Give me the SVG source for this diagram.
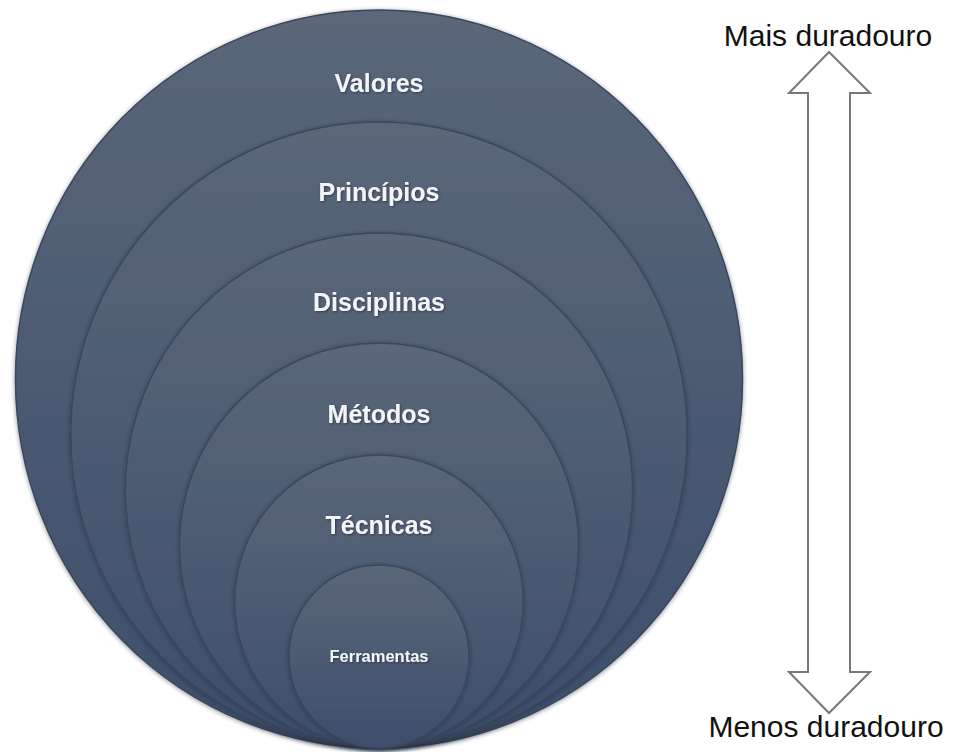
<svg xmlns="http://www.w3.org/2000/svg" width="954" height="752" viewBox="0 0 954 752">
<defs>
<linearGradient id="g" x1="0" y1="0" x2="0" y2="1">
<stop offset="0" stop-color="#5b6779"/>
<stop offset="1" stop-color="#3d4e6b"/>
</linearGradient>
<filter id="sh" x="-10%" y="-10%" width="120%" height="120%">
<feGaussianBlur in="SourceAlpha" stdDeviation="2"/>
<feOffset dx="0" dy="1" result="b"/>
<feFlood flood-color="#1a2436" flood-opacity="0.5"/>
<feComposite in2="b" operator="in"/>
<feMerge><feMergeNode/><feMergeNode in="SourceGraphic"/></feMerge>
</filter>
<filter id="ts" x="-10%" y="-30%" width="120%" height="160%">
<feGaussianBlur in="SourceAlpha" stdDeviation="1"/>
<feOffset dx="1" dy="1" result="b"/>
<feFlood flood-color="#1a2233" flood-opacity="0.6"/>
<feComposite in2="b" operator="in"/>
<feMerge><feMergeNode/><feMergeNode in="SourceGraphic"/></feMerge>
</filter>
</defs>
<style>
.c{fill:url(#g);stroke:#3b475a;stroke-width:1.5;filter:url(#sh)}
.l{font-family:"Liberation Sans",Arial,sans-serif;font-weight:bold;fill:#f2f4f6;text-anchor:middle;filter:url(#ts)}
.t{font-family:"Liberation Sans",Arial,sans-serif;font-size:30px;fill:#111;text-anchor:middle}
.a{fill:#ffffff;stroke:#74797e;stroke-width:2;stroke-linejoin:miter}
</style>
<g id="valores">
<ellipse class="c" cx="379" cy="379" rx="363.5" ry="369"/>
<text class="l" x="379" y="92" font-size="25">Valores</text>
</g>
<g id="principios">
<ellipse class="c" cx="379" cy="435" rx="308.3" ry="313"/>
<text class="l" x="379" y="201" font-size="25">Princípios</text>
</g>
<g id="disciplinas">
<ellipse class="c" cx="379" cy="490.5" rx="253.6" ry="257.5"/>
<text class="l" x="379" y="311" font-size="25">Disciplinas</text>
</g>
<g id="metodos">
<ellipse class="c" cx="379" cy="545.5" rx="199.5" ry="202.5"/>
<text class="l" x="379" y="423" font-size="25">Métodos</text>
</g>
<g id="tecnicas">
<ellipse class="c" cx="379" cy="601.5" rx="144.3" ry="146.5"/>
<text class="l" x="379" y="534" font-size="25">Técnicas</text>
</g>
<g id="ferramentas">
<ellipse class="c" cx="379" cy="656.5" rx="90.1" ry="91.5"/>
<text class="l" x="379" y="662" font-size="16.5">Ferramentas</text>
</g>
<g id="arrow">
<polygon class="a" points="829,52 870,93 850,93 850,672 870,672 829,713 789,672 808,672 808,93 789,93"/>
</g>
<g id="labels">
<text class="t" x="828" y="46">Mais duradouro</text>
<text class="t" x="826" y="737">Menos duradouro</text>
</g>
</svg>
